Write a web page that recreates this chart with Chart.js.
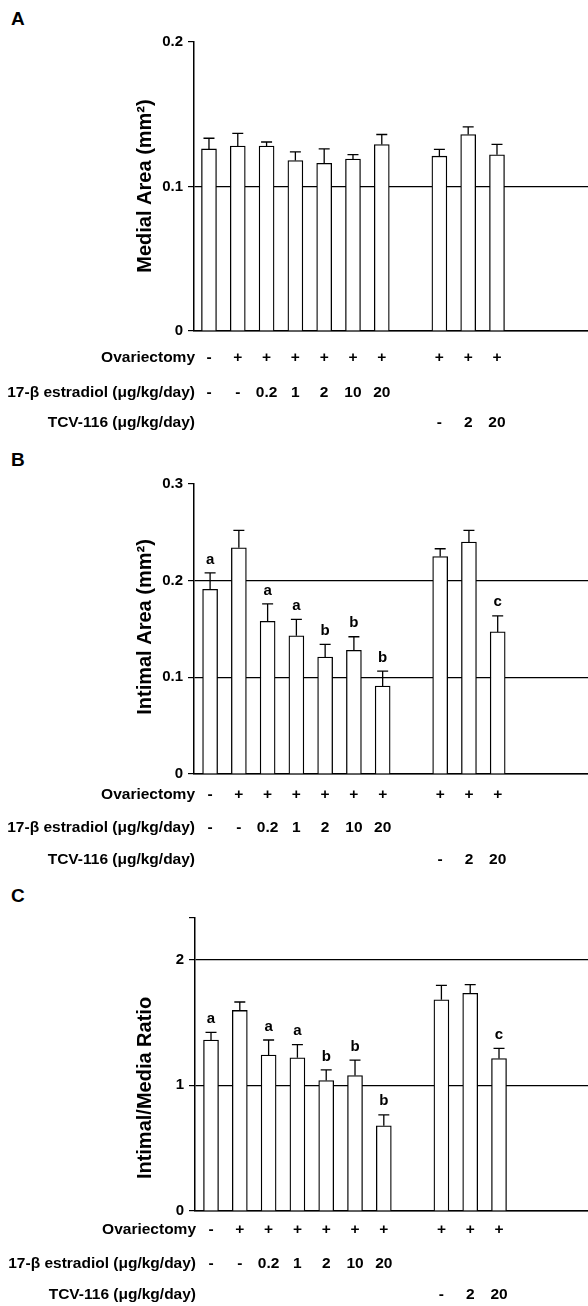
<!DOCTYPE html>
<html>
<head>
<meta charset="utf-8">
<script src="https://cdn.jsdelivr.net/npm/chart.js@4.4.1/dist/chart.umd.min.js"></script>
<style>
  html, body { margin: 0; padding: 0; background: #fff; }
  body { width: 588px; height: 1306px; position: relative; overflow: hidden; }
  .panel { position: absolute; left: 0; width: 588px; }
  .tag { position: absolute; left: 11px; font: bold 19px 'Liberation Sans', Arial, sans-serif; color: #000; }
</style>
</head>
<body>
<div class="tag" style="top:8px">A</div>
<div class="tag" style="top:449px">B</div>
<div class="tag" style="top:885px">C</div>
<div class="panel" style="top:0;height:435px"><canvas id="chartA"></canvas></div>
<div class="panel" style="top:435px;height:435px"><canvas id="chartB"></canvas></div>
<div class="panel" style="top:870px;height:436px"><canvas id="chartC"></canvas></div>
<script>
// group slots (slot 7 is the gap between the two series of groups)
const groupPos = [0, 1, 2, 3, 4, 5, 6, 8, 9, 10];
const ovariectomy = ['-', '+', '+', '+', '+', '+', '+', '+', '+', '+'];
const estradiolDose = ['-', '-', '0.2', '1', '2', '10', '20', '', '', ''];
const tcvDose = ['', '', '', '', '', '', '', '-', '2', '20'];

// A - medial area (mm2)
const medialArea = [0.126, 0.128, 0.128, 0.118, 0.116, 0.119, 0.129, 0.121, 0.136, 0.122];
const medialErr = [0.0074, 0.0088, 0.0028, 0.006, 0.0101, 0.003, 0.007, 0.0047, 0.0053, 0.0072];
const medialTicks = [0, 0.1, 0.2];
const medialTickLabels = ['0', '0.1', '0.2'];

// B - intimal area (mm2)
const intimalArea = [0.191, 0.234, 0.158, 0.143, 0.121, 0.128, 0.091, 0.225, 0.240, 0.147];
const intimalErr = [0.017, 0.018, 0.018, 0.017, 0.013, 0.014, 0.0155, 0.008, 0.012, 0.0166];
const intimalTicks = [0, 0.1, 0.2, 0.3];
const intimalTickLabels = ['0', '0.1', '0.2', '0.3'];

// C - intimal/media ratio
const ratio = [1.36, 1.595, 1.24, 1.219, 1.037, 1.077, 0.677, 1.68, 1.731, 1.213];
const ratioErr = [0.061, 0.067, 0.12, 0.104, 0.085, 0.123, 0.088, 0.115, 0.069, 0.08];
const ratioTicks = [0, 1, 2, 2.33];
const ratioTickLabels = ['0', '1', '2', ''];

const significance = ['a', '', 'a', 'a', 'b', 'b', 'b', '', '', 'c'];

const FONT = "'Liberation Sans', Arial, Helvetica, sans-serif";

const decor = {
  id: 'decor',
  afterDatasetsDraw(chart, args, o) {
    const ctx = chart.ctx;
    const xs = chart.scales.x, ys = chart.scales.y;
    const area = chart.chartArea;
    const ds = chart.data.datasets[0];
    const meta = chart.getDatasetMeta(0);
    ctx.save();
    ctx.strokeStyle = '#000';
    ctx.fillStyle = '#000';
    ctx.lineWidth = 1.3;
    // upper error whiskers + significance letters
    meta.data.forEach((bar, i) => {
      const top = ys.getPixelForValue(ds.data[i].y + o.errors[i]);
      ctx.beginPath();
      ctx.moveTo(bar.x, bar.y);
      ctx.lineTo(bar.x, top);
      ctx.moveTo(bar.x - 5.5, top);
      ctx.lineTo(bar.x + 5.5, top);
      ctx.stroke();
      if (o.sig && o.sig[i]) {
        ctx.font = 'bold 15px ' + FONT;
        ctx.textAlign = 'center';
        ctx.textBaseline = 'bottom';
        ctx.fillText(o.sig[i], bar.x, top - 6);
      }
    });
    // treatment rows under the axis
    const rows = [
      ['Ovariectomy', ovariectomy],
      ['17-\u03b2 estradiol (\u03bcg/kg/day)', estradiolDose],
      ['TCV-116 (\u03bcg/kg/day)', tcvDose]
    ];
    ctx.font = 'bold 15.5px ' + FONT;
    ctx.textBaseline = 'middle';
    rows.forEach(([label, vals], r) => {
      const ty = area.bottom + o.rowOffsets[r];
      ctx.textAlign = 'right';
      ctx.fillText(label, area.left + 1, ty);
      ctx.textAlign = 'center';
      vals.forEach((t, i) => {
        if (t) ctx.fillText(t, xs.getPixelForValue(groupPos[i]), ty);
      });
    });
    // y axis title
    ctx.translate(o.titleX, o.titleY);
    ctx.rotate(-Math.PI / 2);
    ctx.font = 'bold 20px ' + FONT;
    ctx.textAlign = 'center';
    ctx.textBaseline = 'middle';
    ctx.fillText(o.title, 0, 0);
    ctx.restore();
  }
};

function makePanel(id, values, errors, sig, ticks, tickLabels, xMin, xMax, axisWidth, padding, rowOffsets, title, titleY) {
  const yMax = ticks[ticks.length - 1];
  new Chart(document.getElementById(id), {
    type: 'bar',
    data: {
      datasets: [{
        data: values.map((v, i) => ({ x: groupPos[i], y: v })),
        backgroundColor: '#fff',
        borderColor: '#000',
        borderWidth: 1.3,
        barThickness: 15
      }]
    },
    options: {
      responsive: true,
      maintainAspectRatio: false,
      animation: false,
      layout: { padding: padding },
      plugins: {
        legend: { display: false },
        tooltip: { enabled: false },
        decor: { errors: errors, sig: sig, rowOffsets: rowOffsets, title: title, titleX: 145, titleY: titleY }
      },
      scales: {
        x: {
          type: 'linear',
          min: xMin,
          max: xMax,
          offset: false,
          ticks: { display: false },
          grid: { display: false, offset: false },
          border: { display: true, color: '#000', width: 1.5 },
          afterFit: s => { s.height = 0; }
        },
        y: {
          min: 0,
          max: yMax,
          afterBuildTicks: s => { s.ticks = ticks.map(v => ({ value: v })); },
          ticks: {
            color: '#000',
            padding: 5,
            font: { family: FONT, size: 15, weight: 'bold' },
            callback: (v, i) => tickLabels[i]
          },
          grid: {
            color: c => (c.tick && c.tick.value === yMax) ? 'rgba(0,0,0,0)' : '#000',
            tickColor: '#000',
            lineWidth: 1.2,
            tickLength: 6
          },
          border: { display: true, color: '#000', width: 1.5 },
          afterFit: s => { s.width = axisWidth; }
        }
      }
    },
    plugins: [decor]
  });
}

makePanel('chartA', medialArea, medialErr, null, medialTicks, medialTickLabels,
  -0.52, 13.16, 194, { top: 42, bottom: 104, left: 0, right: 0 }, [27, 62, 92],
  'Medial Area (mm\u00b2)', 186);
makePanel('chartB', intimalArea, intimalErr, significance, intimalTicks, intimalTickLabels,
  -0.56, 13.14, 194, { top: 49, bottom: 96, left: 0, right: 0 }, [21, 54, 86],
  'Intimal Area (mm\u00b2)', 192);
makePanel('chartC', ratio, ratioErr, significance, ratioTicks, ratioTickLabels,
  -0.556, 13.09, 195, { top: 48, bottom: 95, left: 0, right: 0 }, [19, 53, 84],
  'Intimal/Media Ratio', 218);
</script>
</body>
</html>
